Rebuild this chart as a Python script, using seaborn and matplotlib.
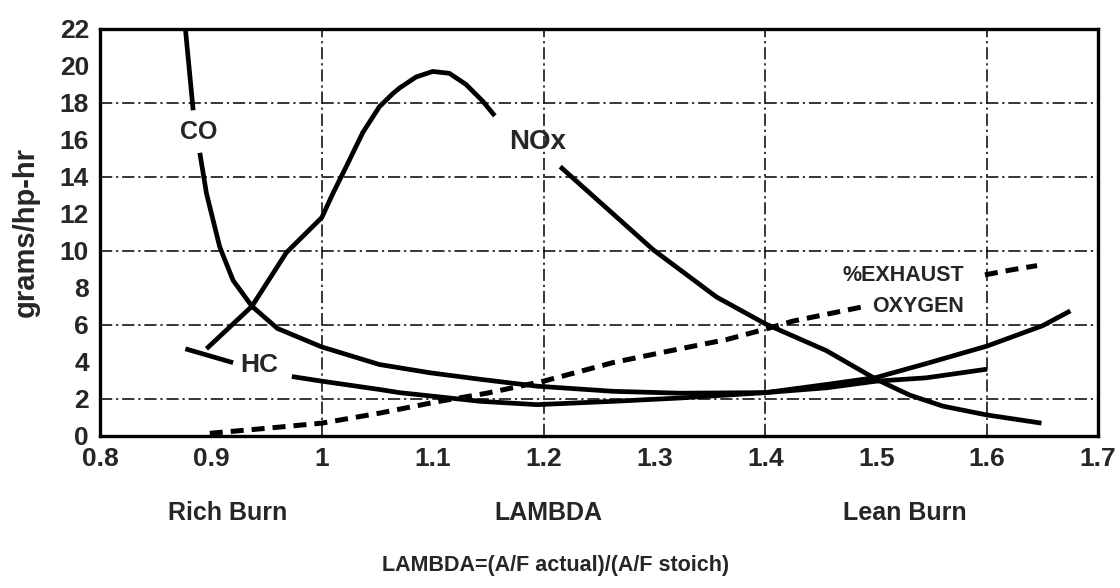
import numpy as np
import pandas as pd
import seaborn as sns
import matplotlib.pyplot as plt

sns.set_style('white')
plt.rcParams['font.family'] = ['Liberation Sans', 'DejaVu Sans']
plt.rcParams['font.weight'] = 'bold'

# values (lambda, grams/hp-hr); seg splits a curve where a label breaks it
co_x = [0.877, 0.884, 0.890, 0.896, 0.908, 0.920, 0.937, 0.960, 1.000, 1.052, 1.098, 1.143,
        1.194, 1.263, 1.323, 1.400, 1.455, 1.500, 1.545, 1.600]
co_y = [22.0, 17.6, 15.3, 13.1, 10.2, 8.4, 7.0, 5.8, 4.8, 3.85, 3.4, 3.05,
        2.68, 2.4, 2.3, 2.33, 2.59, 2.95, 3.13, 3.6]
co_seg = [0, 0] + [1] * 18

nox_x = [0.896, 0.937, 0.968, 1.000, 1.010, 1.022, 1.037, 1.052, 1.064, 1.070, 1.085, 1.100,
         1.115, 1.130, 1.145, 1.156,
         1.215, 1.299, 1.356, 1.400, 1.455, 1.500, 1.530, 1.560, 1.599, 1.649]
nox_y = [4.7, 7.0, 9.9, 11.8, 13.1, 14.55, 16.4, 17.8, 18.5, 18.8, 19.4, 19.7,
         19.6, 19.0, 18.1, 17.3,
         14.55, 10.05, 7.5, 6.05, 4.6, 3.05, 2.2, 1.6, 1.13, 0.68]
nox_seg = [0] * 16 + [1] * 10

hc_x = [0.877, 0.920, 0.973, 1.000, 1.052, 1.070, 1.112, 1.143, 1.194, 1.263, 1.323,
        1.400, 1.455, 1.500, 1.545, 1.600, 1.650, 1.675]
hc_y = [4.7, 3.95, 3.2, 2.95, 2.5, 2.33, 2.06, 1.86, 1.68, 1.86, 2.04,
        2.33, 2.77, 3.15, 3.9, 4.85, 5.95, 6.75]
hc_seg = [0, 0] + [1] * 16

o2_x = [0.899, 0.950, 1.000, 1.052, 1.106, 1.149, 1.200, 1.263, 1.323, 1.365, 1.401, 1.425,
        1.470, 1.490, 1.598, 1.620, 1.645]
o2_y = [0.13, 0.4, 0.68, 1.22, 1.86, 2.3, 2.95, 3.96, 4.7, 5.2, 5.78, 6.2,
        6.75, 7.0, 8.7, 8.95, 9.2]
o2_seg = [0] * 14 + [1] * 3

x_ticks = [0.8, 0.9, 1.0, 1.1, 1.2, 1.3, 1.4, 1.5, 1.6, 1.7]
x_ticklabels = ['0.8', '0.9', '1', '1.1', '1.2', '1.3', '1.4', '1.5', '1.6', '1.7']
y_ticks = list(range(0, 23, 2))
x_grid = [1.0, 1.2, 1.4, 1.6]
y_grid = [2, 6, 10, 14, 18]

fig = plt.figure(figsize=(11.2, 5.88), dpi=100)
ax = fig.add_axes([0.0893, 0.259, 0.8911, 0.6918])

# dash-dot grid
grid_ls = (0, (8, 2.5, 1.5, 2.5))
for gx in x_grid:
    ax.axvline(gx, color='black', lw=1.1, linestyle=grid_ls, zorder=1)
for gy in y_grid:
    ax.axhline(gy, color='black', lw=1.1, linestyle=grid_ls, zorder=1)

solid = pd.concat([
    pd.DataFrame({'x': co_x, 'y': co_y, 'seg': [f'co{s}' for s in co_seg]}),
    pd.DataFrame({'x': nox_x, 'y': nox_y, 'seg': [f'nox{s}' for s in nox_seg]}),
    pd.DataFrame({'x': hc_x, 'y': hc_y, 'seg': [f'hc{s}' for s in hc_seg]}),
])
sns.lineplot(data=solid, x='x', y='y', units='seg', estimator=None, sort=False,
             color='black', lw=3.4, ax=ax, solid_capstyle='butt', solid_joinstyle='round',
             zorder=3)

o2 = pd.DataFrame({'x': o2_x, 'y': o2_y, 'seg': o2_seg})
sns.lineplot(data=o2, x='x', y='y', units='seg', estimator=None, sort=False,
             color='black', lw=3.6, ax=ax, linestyle=(0, (2.6, 1.6)), zorder=3)

ax.set_xlim(0.8, 1.7)
ax.set_ylim(0, 22)
ax.set_xticks(x_ticks)
ax.set_xticklabels(x_ticklabels)
ax.set_yticks(y_ticks)
ax.tick_params(which='major', direction='in', length=10, width=1.6, labelsize=19, pad=8)
ax.grid(False)
for lab in ax.get_xticklabels() + ax.get_yticklabels():
    lab.set_fontweight('bold')
for s in ax.spines.values():
    s.set_linewidth(2.4)
    s.set_color('black')

ax.set_xlabel('')
ax.set_ylabel('grams/hp-hr', fontsize=21, fontweight='bold', labelpad=14)

ax.text(0.889, 16.4, 'CO', fontsize=18, fontweight='bold', ha='center', va='center')
ax.text(1.195, 15.9, 'NOx', fontsize=20, fontweight='bold', ha='center', va='center')
ax.text(0.944, 3.85, 'HC', fontsize=19, fontweight='bold', ha='center', va='center')
ax.text(1.524, 8.69, '%EXHAUST', fontsize=15.5, fontweight='bold', ha='center', va='center')
ax.text(1.538, 6.98, 'OXYGEN', fontsize=15.5, fontweight='bold', ha='center', va='center')

tr = ax.get_xaxis_transform()
ax.text(0.915, -0.19, 'Rich Burn', transform=tr, fontsize=18, fontweight='bold', ha='center', va='center')
ax.text(1.204, -0.19, 'LAMBDA', transform=tr, fontsize=18, fontweight='bold', ha='center', va='center')
ax.text(1.526, -0.19, 'Lean Burn', transform=tr, fontsize=18, fontweight='bold', ha='center', va='center')
fig.text(556 / 1120, 1 - 565 / 588, 'LAMBDA=(A/F actual)/(A/F stoich)', fontsize=15.5,
         fontweight='bold', ha='center', va='center')

fig.savefig('out.png', dpi=100)
